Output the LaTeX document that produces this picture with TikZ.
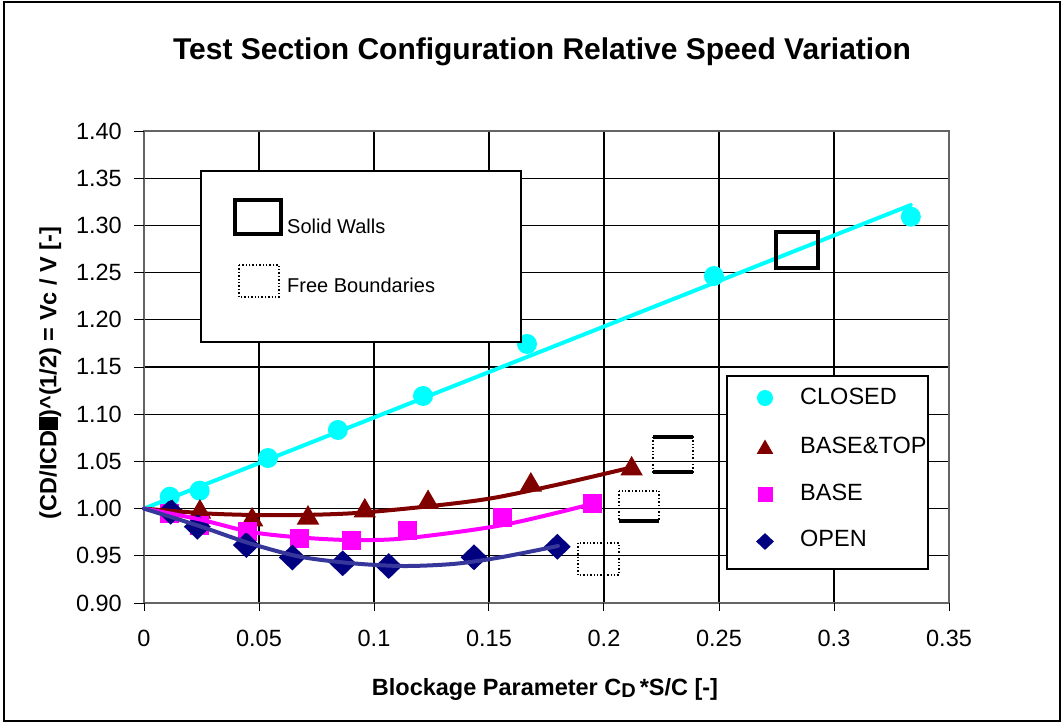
\documentclass[tikz,border=0pt]{standalone}
\usepackage{fontspec}
\setmainfont{Liberation Sans}
\usetikzlibrary{shapes.geometric}

\definecolor{closedcol}{RGB}{0,255,255}
\definecolor{basetopcol}{RGB}{128,0,0}
\definecolor{basecol}{RGB}{255,0,255}
\definecolor{opencol}{RGB}{0,0,128}
\definecolor{opentrend}{RGB}{55,55,155}
\definecolor{framegray}{RGB}{100,100,100}

\tikzset{
  ticklabel/.style={font=\fontsize{23.5}{28}\selectfont, inner sep=0pt},
  axislabel/.style={font=\bfseries\fontsize{23.5}{28}\selectfont, inner sep=0pt},
  keytext/.style={font=\fontsize{23.5}{28}\selectfont, inner sep=0pt, anchor=west},
  walltext/.style={font=\fontsize{20}{24}\selectfont, inner sep=0pt, anchor=west},
  gridline/.style={black, line width=1.2pt},
  closedmark/.style={circle, fill=closedcol, minimum size=20pt, inner sep=0pt},
  basetopmark/.style={regular polygon, regular polygon sides=3, fill=basetopcol, minimum size=26pt, inner sep=0pt},
  basemark/.style={rectangle, fill=basecol, minimum size=19pt, inner sep=0pt},
  openmark/.style={diamond, fill=opencol, minimum width=27pt, minimum height=26pt, inner sep=0pt},
  trend/.style={line width=4pt, line cap=round},
  solidbox/.style={draw=black, line width=4pt},
  freebox/.style={draw=black, line width=1.4pt, dash pattern=on 1.4pt off 2pt},
}

\begin{document}
\begin{tikzpicture}[x=1pt, y=-1pt]
  \useasboundingbox (0,0) rectangle (1063,724);
  % outer frame
  \draw[black, line width=1.2pt] (4,2) rectangle (1060,721);

  % Title
  \node (title) [font=\bfseries\fontsize{30}{34}\selectfont, inner sep=0pt, anchor=base] at (542,59) {Test Section Configuration Relative Speed Variation};

  % Plot area in data units
  \begin{scope}[shift={(144,1452.6)}, x=2300pt, y=944pt]
    % grid
    \foreach \xv in {0.05,0.1,0.15,0.2,0.25,0.3}
      \draw[gridline] (\xv,0.9) -- (\xv,1.4);
    \foreach \yv in {0.95,1.00,1.05,1.10,1.15,1.20,1.25,1.30,1.35}
      \draw[gridline] (0,\yv) -- (0.35,\yv);
    \draw[framegray, line width=1.6pt] (0,0.9) rectangle (0.35,1.4);

    % ticks and tick labels
    \foreach \yv [count=\i] in {0.90,0.95,1.00,1.05,1.10,1.15,1.20,1.25,1.30,1.35,1.40} {
      \draw[black, line width=1pt] (0,\yv) -- ++(-10pt,0);
      \node (yl\i) [ticklabel, anchor=east, xshift=-22pt] at (0,\yv) {\yv};
    }
    \foreach \xv [count=\i] in {0,0.05,0.1,0.15,0.2,0.25,0.3,0.35} {
      \draw[black, line width=1pt] (\xv,0.9) -- ++(0,-8pt);
      \node (xl\i) [ticklabel, yshift=-35.7pt] at (\xv,0.9) {\xv};
    }

    % Markers
    \foreach \xv/\yv [count=\i] in {0.0112/1.0126, 0.0242/1.0190, 0.0539/1.0536, 0.0843/1.0833,
        0.1213/1.1193, 0.1665/1.1744, 0.2478/1.2464, 0.3334/1.3092}
      \node (c\i) [closedmark] at (\xv,\yv) {};
    \foreach \xv/\yv [count=\i] in {0.0120/0.9975, 0.0243/0.9964, 0.0470/0.9880, 0.0713/0.9900,
        0.0960/0.9975, 0.1235/1.0065, 0.1682/1.0250, 0.2120/1.0420}
      \node (t\i) [basetopmark] at (\xv,\yv) {};
    \foreach \xv/\yv [count=\i] in {0.0112/0.9950, 0.0243/0.9816, 0.0452/0.9755, 0.0678/0.9685,
        0.0902/0.9667, 0.1145/0.9773, 0.1560/0.9904, 0.1952/1.0049}
      \node (b\i) [basemark] at (\xv,\yv) {};
    \foreach \xv/\yv [count=\i] in {0.0116/0.9967, 0.0232/0.9808, 0.0445/0.9614, 0.0645/0.9482,
        0.0864/0.9421, 0.1064/0.9392, 0.1435/0.9484, 0.1797/0.9596}
      \node (o\i) [openmark] at (\xv,\yv) {};

    % Trend lines
    \draw[trend, closedcol] (0,1.0) -- (0.3334,1.3216);
    \draw[trend, basetopcol] plot[smooth] coordinates {(0,1.0) (0.03,0.9945) (0.06,0.993)
        (0.09,0.995) (0.12,1.0015) (0.15,1.0105) (0.18,1.0255) (0.21,1.0425)};
    \draw[trend, basecol] plot[smooth] coordinates {(0,1.0) (0.024,0.9887) (0.046,0.9755)
        (0.067,0.9696) (0.09,0.9667) (0.114,0.9686) (0.156,0.9826) (0.195,1.005)};
    \draw[trend, opentrend] plot[smooth] coordinates {(0,1.0) (0.024,0.9816) (0.046,0.9632)
        (0.068,0.949) (0.091,0.942) (0.113,0.9392) (0.135,0.9415) (0.155,0.9484) (0.18,0.9604)};
  \end{scope}

  % Wall boxes on the plot
  \draw[solidbox] (776,232) rectangle (818,268);
  \draw[freebox] (653,437) rectangle (693,472);
  \draw[black, line width=4pt] (653,437) -- (693,437);
  \draw[black, line width=4pt] (653,472) -- (693,472);
  \draw[freebox] (619,491) rectangle (659,521);
  \draw[black, line width=4pt] (619,521) -- (659,521);
  \draw[freebox] (578,543) rectangle (619,575);

  % Wall legend
  \node (wallkey) [draw=black, fill=white, line width=1.5pt, minimum width=320pt, minimum height=171pt, inner sep=0pt] at (361,256.5) {};
  \draw[solidbox] (235,200) rectangle (281,234);
  \node (solidtext) [walltext] at (287,226) {Solid Walls};
  \draw[freebox] (239,265) rectangle (279,297);
  \node (freetext) [walltext] at (287,285) {Free Boundaries};

  % Series legend
  \node (serieskey) [draw=black, fill=white, line width=1.2pt, minimum width=201pt, minimum height=193pt, inner sep=0pt] at (827.5,472.5) {};
  \node (lc) [closedmark, minimum size=16pt] at (765,398) {};
  \node (lt) [basetopmark, minimum size=19pt] at (765,449) {};
  \node (lb) [basemark, minimum size=15pt] at (765,494) {};
  \node (lo) [openmark, minimum width=18pt, minimum height=17pt] at (765,541.5) {};
  \node (lctext) [keytext] at (800,396) {CLOSED};
  \node (lttext) [keytext] at (800,445) {BASE\&TOP};
  \node (lbtext) [keytext] at (800,492) {BASE};
  \node (lotext) [keytext] at (800,538) {OPEN};

  % Axis labels
  \node (xlabel) [axislabel, anchor=base] at (545,695) {Blockage Parameter C\raisebox{-0.12em}{\fontsize{20}{22}\selectfont D}\,*S/C [-]};
  \node (ylabel) [axislabel, rotate=90] at (50,373) {(CD/ICD\rule[-0.05em]{0.55em}{0.8em})\textasciicircum(1/2) = Vc / V [-]};
\end{tikzpicture}
\end{document}
